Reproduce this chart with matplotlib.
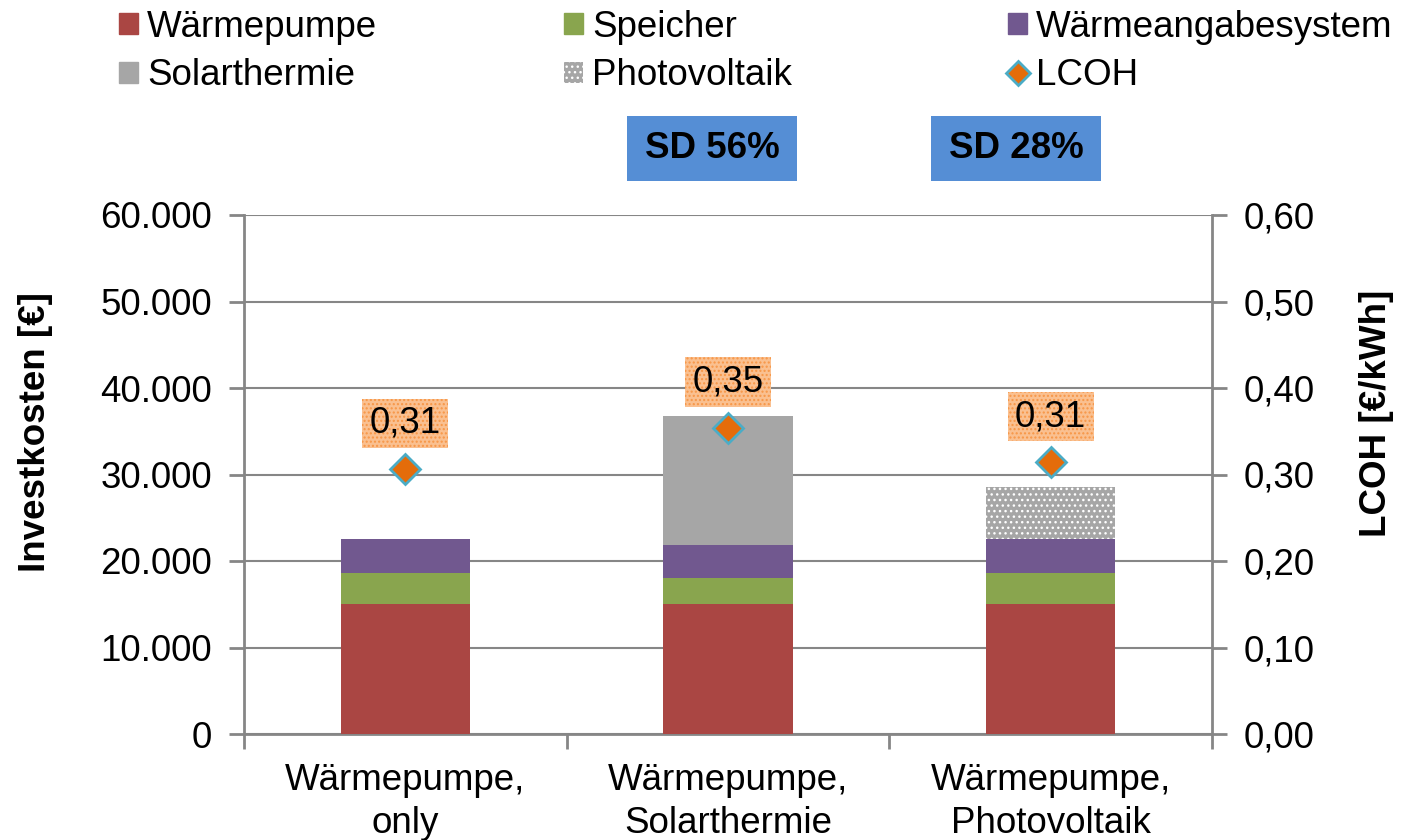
import matplotlib
matplotlib.use("Agg")
import matplotlib.pyplot as plt
from matplotlib.patches import Patch, Rectangle
from matplotlib.lines import Line2D
from matplotlib.ticker import FuncFormatter
import numpy as np

plt.rcParams['font.family'] = ['Liberation Sans', 'DejaVu Sans']
plt.rcParams['hatch.linewidth'] = 1.0

# data
categories = ["Wärmepumpe,\nonly", "Wärmepumpe,\nSolarthermie", "Wärmepumpe,\nPhotovoltaik"]
waermepumpe = [15000, 15000, 15000]
speicher = [3600, 3000, 3600]
waermeabgabe = [4000, 3900, 4000]
solarthermie = [0, 14900, 0]
photovoltaik = [0, 0, 6000]
lcoh = [0.306, 0.354, 0.314]
sd_labels = ["SD 56%", "SD 28%"]

c_wp = '#AA4643'
c_sp = '#89A54E'
c_wa = '#71588F'
c_st = '#A6A6A6'
c_pv = '#A6A6A6'
grey = '#868686'
fs = 26.5
W, H = 1416, 840

fig = plt.figure(figsize=(W / 100, H / 100), dpi=100)
ax = fig.add_axes([244 / W, 1 - 734 / H, 968 / W, 519 / H])
x = np.arange(len(categories))
w = 0.4

bottom = np.zeros(3)
for vals, col in [(waermepumpe, c_wp), (speicher, c_sp), (waermeabgabe, c_wa), (solarthermie, c_st)]:
    ax.bar(x, vals, w, bottom=bottom, color=col, linewidth=0, zorder=3)
    bottom += np.array(vals)
ax.bar(x, photovoltaik, w, bottom=bottom, color=c_pv, edgecolor='white',
       hatch='...', linewidth=0, zorder=3)

ax.set_xlim(-0.5, 2.5)
ax.set_ylim(0, 60000)
ax.set_yticks(np.arange(0, 60001, 10000))
ax.yaxis.set_major_formatter(FuncFormatter(lambda v, p: f"{int(v):,}".replace(",", ".")))
ax.set_xticks([-0.5, 0.5, 1.5, 2.5])
ax.set_xticklabels([])
ax.set_xticks(x, minor=True)
ax.set_xticklabels(categories, minor=True, fontsize=fs, linespacing=1.28)
ax.tick_params(axis='x', which='minor', length=0, pad=21)
ax.tick_params(axis='x', which='major', length=11, width=2, color=grey, direction='out')
ax.tick_params(axis='y', length=11, width=2, color=grey, labelsize=fs, pad=12)
ax.grid(axis='y', color=grey, lw=1.5, zorder=0)
ax.set_axisbelow(True)
for s in ['left', 'right', 'bottom']:
    ax.spines[s].set_color(grey)
    ax.spines[s].set_linewidth(2)
ax.spines['top'].set_visible(False)

ax2 = ax.twinx()
ax2.set_ylim(0, 0.6)
ax2.set_yticks(np.arange(0, 0.61, 0.1))
ax2.yaxis.set_major_formatter(FuncFormatter(lambda v, p: f"{v:.2f}".replace(".", ",")))
ax2.tick_params(axis='y', length=11, width=2, color=grey, labelsize=fs, pad=12)
for s in ['left', 'right', 'bottom', 'top']:
    ax2.spines[s].set_visible(False)
ax2.plot(x, lcoh, linestyle='none', marker='D', markersize=15, markerfacecolor='#E46C0A',
         markeredgecolor='#4BACC6', markeredgewidth=2, zorder=5)
for xi, v in zip(x, lcoh):
    ax2.annotate(f"{v:.2f}".replace(".", ","), (xi, v), xytext=(0, 33), textcoords='offset points',
                 ha='center', va='center', fontsize=fs,
                 bbox=dict(boxstyle='square,pad=0.2', fc='#FAC090', ec='#F79646',
                           hatch='....', lw=0))

# axis titles
fig.text(36 / W, 1 - 432 / H, "Investkosten [€]", rotation=90, ha='center', va='center',
         fontsize=fs, fontweight='bold')
fig.text(1377 / W, 1 - 413 / H, "LCOH [€/kWh]", rotation=90, ha='center', va='center',
         fontsize=fs, fontweight='bold')

# SD boxes
for (x0, x1), lab in zip([(627, 797), (931, 1101)], sd_labels):
    fig.add_artist(Rectangle((x0 / W, 1 - 181 / H), (x1 - x0) / W, 65 / H,
                             transform=fig.transFigure, fc='#558ED5', ec='none'))
    fig.text((x0 + x1) / 2 / W, 1 - 149 / H, lab, ha='center', va='center', fontsize=fs,
             fontweight='bold')

# legend in three columns
cols = [
    ([Patch(color=c_wp), Patch(color=c_st)], ["Wärmepumpe", "Solarthermie"], 119),
    ([Patch(color=c_sp), Patch(facecolor=c_pv, edgecolor='white', hatch='...', lw=0)],
     ["Speicher", "Photovoltaik"], 564),
    ([Patch(color=c_wa), Line2D([], [], linestyle='none', marker='D', markersize=12,
                                markerfacecolor='#E46C0A', markeredgecolor='#4BACC6',
                                markeredgewidth=2)],
     ["Wärmeangabesystem", "LCOH"], 1008),
]
for handles, labels, px in cols:
    fig.legend(handles, labels, loc='upper left', bbox_to_anchor=(px / W, 1 - 10 / H),
               frameon=False, fontsize=fs, borderpad=0, borderaxespad=0,
               handlelength=0.52, handleheight=0.5, handletextpad=0.25,
               labelspacing=0.36)

fig.savefig("out.png", dpi=100)
